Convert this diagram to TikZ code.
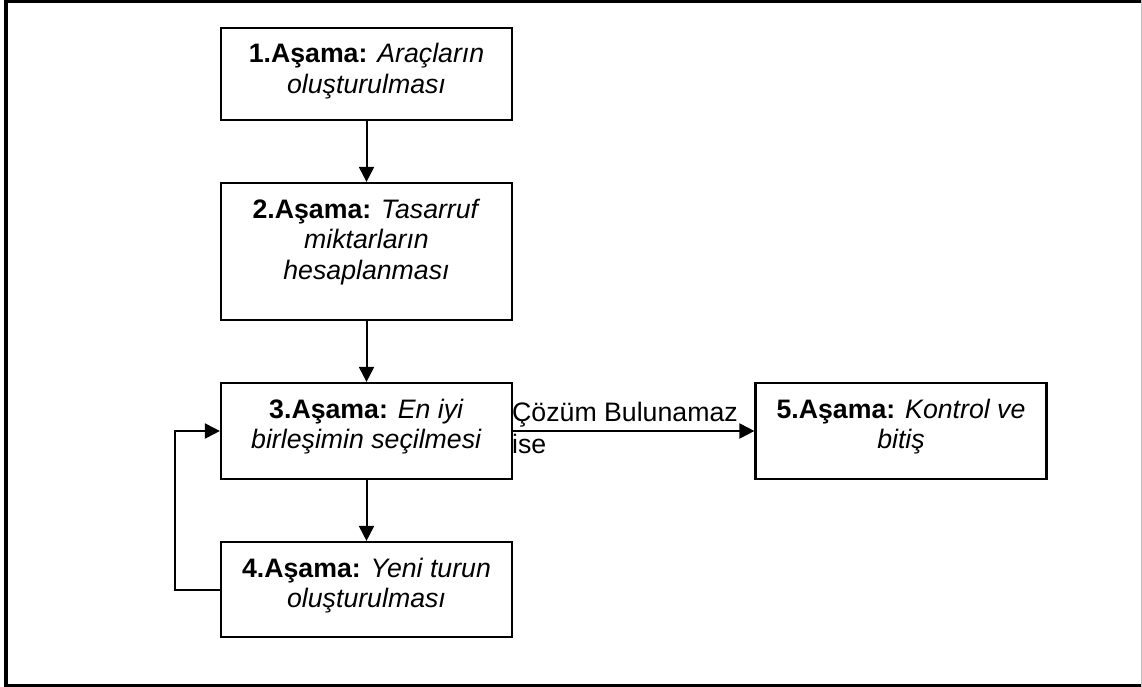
\documentclass[tikz,border=0pt]{standalone}
\usepackage{fontspec}
\setmainfont{Liberation Sans}
\usetikzlibrary{arrows.meta}
\begin{document}
\begin{tikzpicture}[x=1pt,y=-1pt,
  stagebox/.style={draw, line width=2.2pt, inner sep=0pt, minimum width=291pt, rectangle},
  stagetext/.style={inner sep=0pt, align=center, font=\fontsize{26.7}{30.7}\selectfont, anchor=north},
  arr/.style={line width=2pt, -{Triangle[length=15pt,width=15pt]}},
  frame/.style={fill=black}
]
\useasboundingbox (0,0) rectangle (1142,687);
% outer frame
\fill[frame] (4,0) rectangle (1142,3.3);
\fill[frame] (4,0) rectangle (8,687);
\fill[frame] (4,684) rectangle (1142,687);
\draw[black!25, line width=1pt] (1141,0) -- (1141,687);

% boxes
\node[stagebox, minimum height=92pt] (b1) at (366.5,74) {};
\node[stagebox, minimum height=137pt] (b2) at (366.5,251.5) {};
\node[stagebox, minimum height=96pt] (b3) at (366.5,431) {};
\node[stagebox, minimum height=95pt] (b4) at (366.5,589.5) {};
\node[stagebox, minimum height=96pt] (b5) at (901,431) {};

% texts
\node[stagetext] (t1) at (366.5,41.2) {\strut\textbf{1.Aşama:} \textit{Araçların}\\\textit{oluşturulması}};
\node[stagetext] (t2) at (366.5,196.5) {\strut\textbf{2.Aşama:} \textit{Tasarruf}\\\textit{miktarların}\\\textit{hesaplanması}};
\node[stagetext] (t3) at (366.5,396.5) {\strut\textbf{3.Aşama:} \textit{En iyi}\\\textit{birleşimin seçilmesi}};
\node[stagetext] (t4) at (366.5,555.5) {\strut\textbf{4.Aşama:} \textit{Yeni turun}\\\textit{oluşturulması}};
\node[stagetext] (t5) at (901,396.5) {\strut\textbf{5.Aşama:} \textit{Kontrol ve}\\\textit{bitiş}};

% connectors
\draw[arr] (b1.south) -- (b2.north);
\draw[arr] (b2.south) -- (b3.north);
\draw[arr] (b3.south) -- (b4.north);
\draw[arr] (b3.east) -- (b5.west);
\draw[arr] (b4.west) -- ++(-44.5,0) |- (b3.west);

% label
\node[inner sep=0pt, align=left, anchor=north west, font=\fontsize{26.7}{32}\selectfont] (lbl) at (512,398.5) {\strut Çözüm Bulunamaz\\ise};
\end{tikzpicture}
\end{document}
